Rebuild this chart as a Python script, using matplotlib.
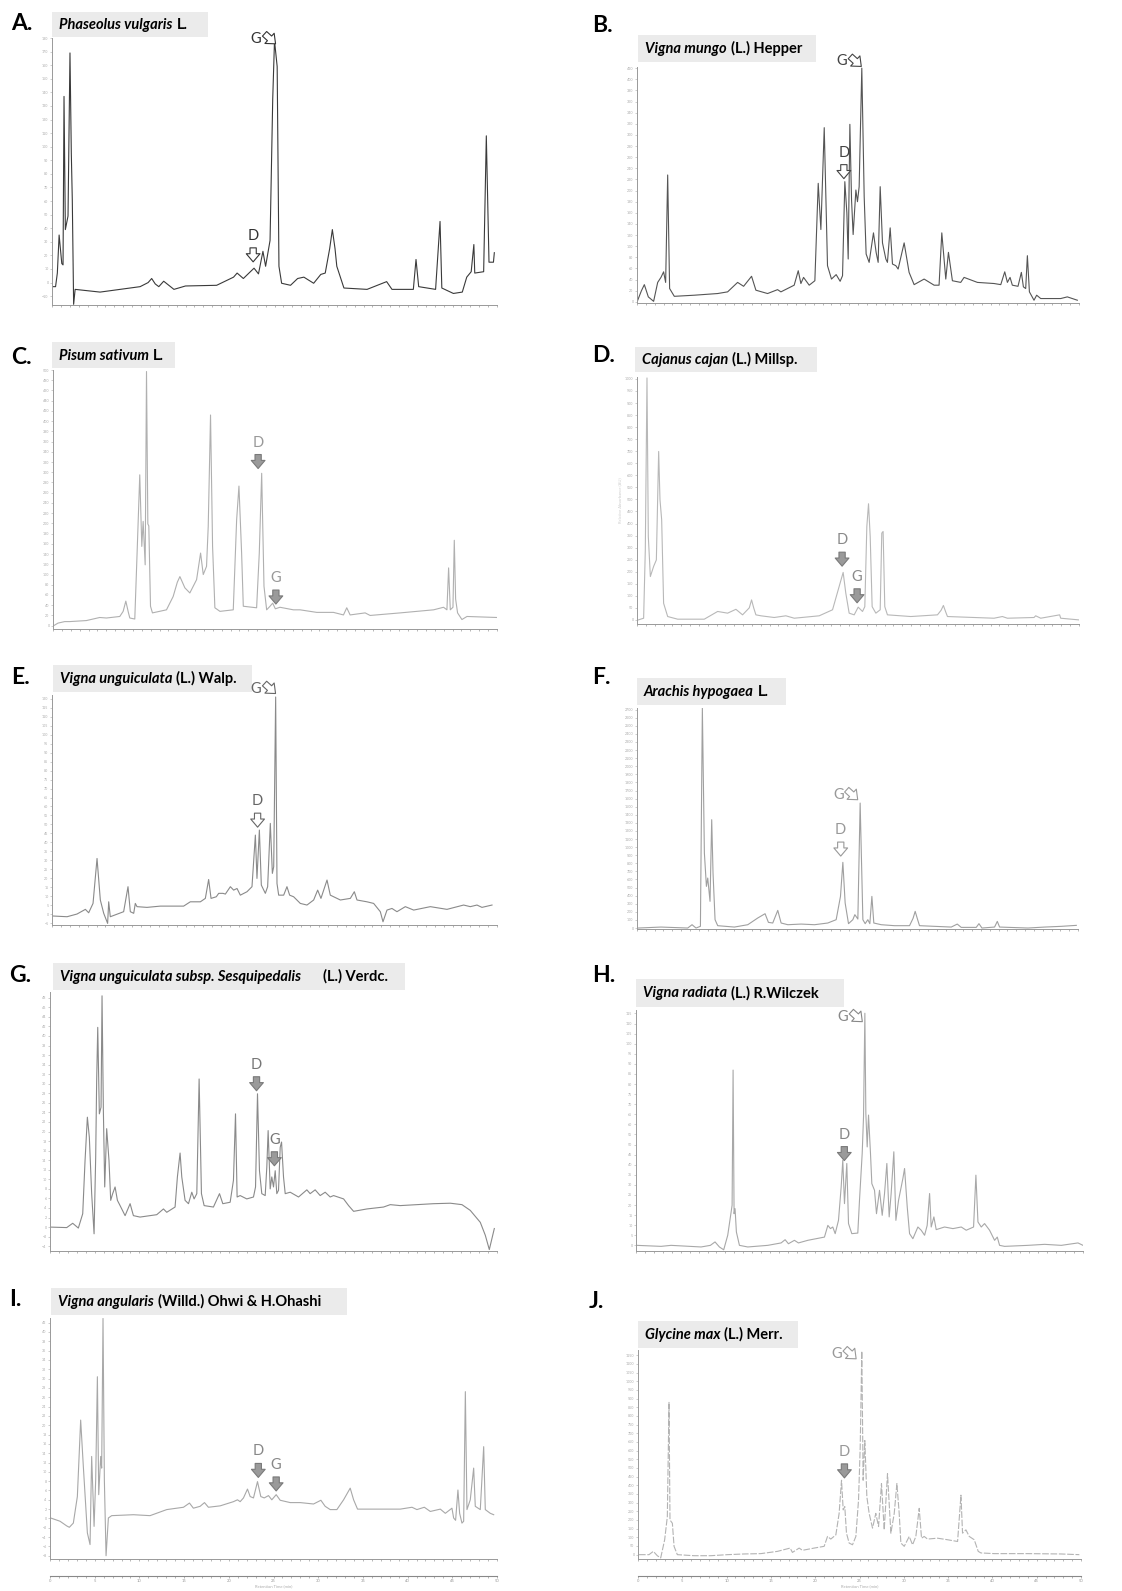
import numpy as np
import matplotlib
matplotlib.use('Agg')
import matplotlib.pyplot as plt
from matplotlib.patches import FancyArrowPatch, Rectangle
from matplotlib.transforms import IdentityTransform
from matplotlib.ticker import MultipleLocator

plt.rcParams['font.family'] = ['Lato', 'DejaVu Sans']

# ---- chromatograms: (retention time min, signal) ----
trazo_A = [(0.1,-3),(0.4,-3),(0.6,7),(0.8,35),(1.1,14),(1.24,13),(1.35,137),(1.5,39),(1.8,49),(2.02,169),
           (2.17,95),(2.28,61),(2.43,-16),(2.6,-5),(5.4,-7),(9.9,-3),(10.8,0),(11.2,3),(11.6,-1),(12.0,-3),(12.55,1),
           (13.7,-5),(15.0,-2.5),(18.5,-2),(20.4,4),(20.8,7),(21.5,3),(22.7,10.6),(23.2,6.4),(23.7,23),(24.0,12),
           (24.5,31),(24.8,135),(25.0,178),(25.3,159),(25.5,12),(25.8,-0.5),(26.8,-2),(27.6,3),(28.3,4),(29.4,-0.5),
           (30.2,6),(30.7,7),(31.2,25),(31.5,39),(31.8,25),(32.0,12),(32.8,-4),(35.4,-5),(37.6,0.7),(38.2,-5),
           (40.6,-5),(40.9,17),(41.2,-3),(43.1,-5),(43.6,45),(43.8,-4),(45.1,-8),(46.1,-7),(46.6,4),(47.1,8),
           (47.4,28),(47.5,7),(48.5,8),(48.8,108),(49.1,15),(49.6,15),(49.7,22)]

trazo_B = [(0.08,3),(0.5,20),(0.83,31),(1.28,9),(1.88,1),(2.34,35),(2.71,44),(3.01,54),(3.24,35),(3.47,228),
           (3.69,24),(4.22,10),(6.48,12),(9.12,15),(10.25,18),(11.38,35),(12.06,28),(12.96,46),(13.45,21),
           (14.77,15),(15.9,22),(16.28,18),(17.78,30),(18.24,56),(18.54,33),(18.84,44),(19.48,30),(20.12,38),
           (20.5,213),(20.8,130),(21.18,313),(21.55,65),(22.0,41),(22.53,49),(22.98,37),(23.25,47),(23.51,216),
           (23.74,160),(23.89,77),(24.08,319),(24.27,183),(24.45,121),(24.76,201),(24.94,180),(25.13,207),
           (25.43,420),(25.7,189),(25.92,86),(26.26,71),(26.75,124),(27.05,89),(27.28,71),(27.51,207),(27.77,106),
           (28.15,77),(28.33,71),(28.64,133),(28.9,68),(29.28,65),(29.54,59),(30.22,106),(30.78,53),(31.35,31),
           (32.48,41),(33.61,30),(34.17,30),(34.48,124),(34.93,41),(35.23,89),(35.68,38),(36.62,35),(37.0,44),
           (38.51,35),(40.39,33),(41.15,31),(41.6,54),(41.9,35),(42.2,44),(42.46,30),(43.1,28),(43.48,53),
           (43.71,27),(43.97,24),(44.16,83),(44.39,18),(44.91,3),(45.21,12),(45.67,6),(47.93,6),(48.68,9),(49.81,3)]

trazo_C = [(0.08,0),(0.56,5),(1.32,8),(1.88,8),(3.76,10),(5.26,16),(6.02,15),(7.52,18),(7.9,28),(8.2,48),(8.5,25),
           (8.65,15),(9.21,13),(9.47,142),(9.77,295),(10.0,155),(10.15,204),(10.38,119),(10.53,497),(10.68,199),
           (10.79,195),(10.98,38),(11.2,25),(12.78,31),(13.53,57),(14.0,85),(14.29,96),(14.85,74),(15.41,64),
           (16.17,90),(16.62,142),(16.92,100),(17.29,116),(17.48,194),(17.74,412),(17.97,155),(18.23,35),
           (18.8,28),(20.3,31),(20.68,207),(20.94,273),(21.24,142),(21.43,38),(22.93,35),(23.23,142),(23.5,298),
           (23.76,77),(24.06,31),(24.44,38),(24.74,44),(25.04,33),(25.56,36),(27.07,31),(27.82,31),(29.7,26),
           (31.58,26),(32.71,21),(33.08,35),(33.46,21),(35.15,25),(35.71,20),(39.1,25),(42.86,31),(43.98,36),
           (44.36,31),(44.55,113),(44.74,31),(45.04,36),(45.19,167),(45.34,52),(45.56,25),(46.05,12),(46.62,18),
           (50.0,16)]

trazo_D = [(0.15,0),(0.75,7),(0.94,291),(1.13,1004),(1.28,346),(1.51,180),(1.88,222),(2.19,249),(2.45,699),
           (2.6,499),(2.79,416),(3.01,69),(3.47,14),(4.6,3),(7.61,3),(9.12,35),(10.25,28),(11.19,44),(11.94,21),
           (12.7,50),(12.96,83),(13.2,50),(13.45,21),(14.02,17),(15.52,10),(16.84,17),(17.79,7),(20.61,17),
           (22.12,42),(22.87,139),(23.32,197),(23.62,111),(24.0,28),(24.57,21),(25.02,53),(25.51,35),(25.77,55),
           (26.0,388),(26.19,482),(26.38,346),(26.6,55),(27.02,28),(27.51,42),(27.69,360),(27.84,367),(28.03,55),
           (28.33,21),(30.97,14),(33.99,21),(34.4,40),(34.66,60),(34.9,35),(35.12,14),(40.39,7),(41.33,14),
           (41.9,7),(44.91,10),(45.1,17),(45.67,7),(47.81,21),(47.93,7),(50.0,0)]

trazo_E = [(0.11,-0.9),(1.69,-1.3),(2.81,0.2),(3.75,2.8),(4.12,0.9),(4.61,6.1),(5.06,31.1),(5.43,8.0),(5.81,0.6),
           (6.25,-5.0),(6.37,7.0),(6.55,-1.3),(8.05,1.5),(8.54,15.4),(8.8,1.5),(9.18,0.6),(9.36,6.1),(9.55,4.3),
           (10.67,3.9),(12.17,4.6),(14.79,4.6),(15.54,7.0),(16.67,7.0),(17.23,8.9),(17.6,19.4),(17.87,8.9),
           (18.46,9.8),(18.73,11.7),(19.21,11.7),(19.48,11.3),(20.04,15.4),(20.41,13.5),(20.79,14.4),(21.16,10.7),
           (21.91,12.6),(22.47,15.4),(22.85,44.1),(23.03,20.0),(23.3,46.9),(23.52,16.3),(23.97,11.7),(24.23,15.4),
           (24.53,50.6),(24.76,22.8),(24.91,26.5),(25.13,120.9),(25.28,17.2),(25.47,10.7),(26.03,10.7),
           (26.4,15.4),(26.7,10.7),(27.15,9.8),(27.9,6.1),(28.65,5.2),(29.4,8.0),(29.85,13.5),(30.22,8.9),
           (30.9,19.1),(31.27,10.7),(32.4,8.0),(33.52,8.9),(33.97,12.6),(34.27,8.0),(35.39,7.0),(36.14,6.1),
           (36.89,1.5),(37.19,-4.1),(37.64,2.4),(38.2,3.3),(38.76,1.5),(39.7,4.3),(40.64,2.4),(42.51,4.3),
           (44.38,2.8),(46.25,5.2),(47.0,4.3),(47.75,5.2),(48.31,3.9),(49.44,5.2)]

trazo_F = [(0.15,0),(2.72,12),(5.75,0),(6.24,41),(6.69,0),(7.19,21),(7.41,2719),(7.64,927),(7.87,515),(8.02,618),
           (8.28,330),(8.47,1339),(8.62,680),(8.85,103),(9.15,29),(11.04,12),(12.56,41),(13.12,82),(13.69,124),
           (14.52,177),(14.9,70),(15.39,62),(15.96,218),(16.34,62),(17.1,41),(18.61,49),(20.12,41),(21.63,62),
           (22.58,103),(23.07,391),(23.34,812),(23.6,309),(23.98,54),(24.47,103),(24.7,165),(25.04,111),
           (25.3,1545),(25.61,103),(25.87,54),(26.17,103),(26.4,54),(26.63,391),(26.85,62),(27.69,41),(29.2,29),
           (30.9,29),(31.3,120),(31.54,206),(31.8,110),(32.03,29),(35.63,12),(36.31,49),(36.76,8),(38.46,8),
           (38.77,54),(39.11,0),(40.54,12),(40.85,82),(41.11,12),(44.33,0),(46.22,12),(48.11,21),(49.81,33)]

trazo_G = [(0.07,0),(1.87,-0.1),(2.54,0.8),(3.17,-0.2),(3.66,2.8),(3.92,13.9),(4.18,23.0),(4.4,18.8),(4.66,7.0),
           (4.93,-1.4),(5.11,14.6),(5.22,30.7),(5.34,41.8),(5.52,23.7),(5.71,25.1),(5.82,48.4),(5.97,24.4),
           (6.12,8.4),(6.34,20.6),(6.6,13.9),(6.79,5.6),(7.01,7.0),(7.28,8.4),(7.54,5.6),(7.84,4.5),(8.4,2.4),
           (8.96,4.9),(9.33,2.4),(10.07,2.1),(11.94,2.6),(12.69,3.8),(13.06,3.1),(13.99,4.2),(14.25,10.5),
           (14.55,15.5),(14.74,10.5),(15.11,5.6),(15.49,4.9),(15.86,7.3),(16.12,5.9),(16.42,7.0),(16.68,31.0),
           (16.94,7.0),(17.24,4.5),(18.28,4.2),(18.96,7.0),(19.33,4.9),(20.15,5.2),(20.52,9.8),(20.75,23.7),
           (20.93,6.3),(21.27,6.6),(22.01,5.9),(22.76,6.3),(22.99,8.4),(23.21,27.9),(23.43,11.8),(23.69,7.0),
           (24.07,6.6),(24.25,12.5),(24.4,20.2),(24.63,8.0),(24.81,10.5),(25.0,8.4),(25.19,11.8),(25.37,7.0),
           (25.56,7.7),(25.75,16.7),(25.9,17.8),(26.12,10.5),(26.31,7.0),(26.87,7.3),(27.8,6.3),(28.73,7.8),
           (29.1,7.0),(29.66,7.8),(30.22,6.6),(30.78,7.3),(31.34,6.3),(31.72,6.6),(32.84,5.9),(33.4,4.5),
           (33.96,3.3),(35.45,3.8),(37.31,4.2),(38.06,4.7),(39.18,4.5),(41.04,4.7),(42.91,4.9),(44.78,5.0),
           (46.08,4.7),(47.01,3.5),(48.13,1.0),(48.69,-1.7),(49.14,-4.7),(49.7,-0.3)]

trazo_H = [(0.11,0),(2.8,-0.5),(3.92,0),(7.28,-0.8),(8.32,0),(8.84,1.7),(9.33,-0.8),(9.81,-2.2),(10.26,5.0),
           (10.56,14.1),(10.75,19.9),(10.86,86.9),(10.97,15.7),(11.08,18.2),(11.23,6.6),(11.57,0),(12.5,-0.8),
           (14.74,0),(16.23,1.2),(16.68,2.8),(17.05,0.8),(17.72,2.5),(18.17,1.2),(19.22,2.5),(20.15,3.3),
           (21.08,4.1),(21.46,9.9),(21.75,8.3),(22.01,9.1),(22.28,5.8),(22.65,12.4),(22.95,29.0),(23.13,42.2),
           (23.32,20.7),(23.58,40.6),(23.77,10.8),(24.14,5.8),(24.81,6.1),(25.0,22.4),(25.3,45.5),(25.45,63.7),
           (25.6,115.1),(25.71,65.4),(25.86,48.8),(26.01,64.6),(26.23,45.5),(26.38,30.6),(26.68,27.3),
           (26.9,15.7),(27.24,27.3),(27.54,14.9),(27.8,25.7),(28.06,40.6),(28.32,14.1),(28.54,25.7),(28.84,46.4),
           (29.07,12.4),(29.37,22.4),(29.85,33.1),(30.04,38.1),(30.34,19.0),(30.6,5.8),(30.97,3.3),(31.53,9.1),
           (31.9,7.5),(32.28,5.0),(32.57,9.9),(32.84,25.7),(33.02,9.1),(33.32,14.1),(33.58,7.8),(34.51,9.1),
           (35.45,8.3),(36.38,9.1),(36.94,7.5),(37.76,9.1),(38.02,34.8),(38.25,11.6),(38.62,9.1),(38.99,10.8),
           (39.55,7.5),(40.11,2.5),(40.41,4.1),(40.67,0),(41.23,-0.5),(43.84,0),(45.71,0.5),(47.57,0),(49.44,1.2),
           (50.0,0)]

trazo_I = [(0.07,0.1),(1.12,-0.6),(1.87,-1.6),(2.16,-1.9),(2.61,-1.0),(3.06,4.7),(3.43,21.1),(3.73,11.1),
           (4.18,-3.1),(4.48,-5.6),(4.66,13.3),(4.93,-1.7),(5.11,8.3),(5.3,30.4),(5.45,5.1),(5.67,13.3),
           (5.78,10.8),(5.93,42.9),(6.08,8.3),(6.27,-8.0),(6.53,0.1),(6.9,0.6),(9.33,0.8),(11.19,0.6),(13.06,1.9),
           (14.18,2.2),(14.93,2.4),(15.6,3.3),(16.04,2.2),(16.79,2.6),(17.28,3.4),(17.72,2.4),(19.03,2.7),
           (20.52,3.6),(20.97,4.0),(21.27,3.6),(21.64,4.4),(22.09,6.3),(22.39,4.7),(22.76,4.4),(23.21,7.9),
           (23.58,4.7),(23.96,4.4),(24.44,4.9),(24.81,4.0),(25.3,5.1),(25.75,3.9),(26.87,3.4),(27.99,3.4),
           (29.48,3.1),(30.3,3.9),(30.78,2.6),(31.34,1.9),(32.09,1.9),(32.84,4.0),(33.58,6.5),(33.96,4.0),
           (34.4,2.0),(35.45,2.0),(39.18,2.0),(40.49,2.4),(41.04,1.9),(41.87,2.4),(42.54,1.5),(43.66,2.0),
           (44.22,1.1),(44.96,2.2),(45.15,0.1),(45.37,-0.4),(45.63,6.1),(45.82,1.1),(46.08,-1.0),(46.27,-0.6),
           (46.46,27.2),(46.64,1.9),(47.01,4.0),(47.39,10.8),(47.57,2.6),(48.13,1.9),(48.51,15.4),(48.69,1.9),
           (49.25,1.1),(49.63,0.8)]

trazo_J = [(0.11,0),(1.24,0),(1.73,19),(2.18,-6),(2.56,-19),(3.01,86),(3.31,219),(3.5,878),(3.61,200),(3.88,181),
           (4.07,48),(4.44,0),(6.33,-6),(8.21,-6),(10.09,0),(11.97,4),(13.86,6),(15.74,19),(17.17,38),(17.43,13),
           (18.19,38),(18.56,25),(19.88,38),(21.01,48),(21.39,105),(21.76,90),(22.33,114),(22.7,238),(22.97,429),
           (23.16,258),(23.34,277),(23.53,124),(23.83,67),(24.21,57),(24.59,105),(24.89,315),(25.08,620),
           (25.26,1173),(25.41,429),(25.6,658),(25.83,334),(26.09,238),(26.47,153),(26.84,238),(27.15,162),
           (27.48,410),(27.79,143),(28.16,467),(28.54,124),(28.92,238),(29.22,410),(29.48,238),(29.67,67),
           (30.05,48),(30.61,105),(30.99,57),(31.36,105),(31.74,267),(32.0,95),(32.3,105),(32.68,90),(33.81,95),
           (34.94,86),(36.07,76),(36.45,343),(36.63,124),(37.01,143),(37.39,105),(37.95,86),(38.4,19),(38.7,10),
           (40.21,6),(43.98,6),(47.74,4),(49.81,0)]

letras = ['A', 'B', 'C', 'D', 'E', 'F', 'G', 'H', 'I', 'J']
especies = ['Phaseolus vulgaris', 'Vigna mungo', 'Pisum sativum', 'Cajanus cajan', 'Vigna unguiculata',
            'Arachis hypogaea', 'Vigna unguiculata subsp. Sesquipedalis', 'Vigna radiata', 'Vigna angularis',
            'Glycine max']
autores = ['L.', '(L.) Hepper', 'L.', '(L.) Millsp.', '(L.) Walp.', 'L.', '(L.) Verdc.', '(L.) R.Wilczek',
           '(Willd.) Ohwi & H.Ohashi', '(L.) Merr.']
trazos = [trazo_A, trazo_B, trazo_C, trazo_D, trazo_E, trazo_F, trazo_G, trazo_H, trazo_I, trazo_J]
# D and G marker positions (time, signal) and arrow kind
marca_D = [(22.6, 20.4), (23.4, 234), (23.1, 321), (23.2, 252), (23.1, 52.4),
           (23.1, 976), (23.1, 30.0), (23.3, 45.5), (23.3, 10.3), (23.3, 483)]
marca_G = [(24.5, 179.4), (24.75, 432), (25.1, 56), (24.9, 100), (24.5, 125.6),
           (24.4, 1648), (25.1, 14.3), (24.7, 113.4), (25.3, 7.4), (24.0, 1158)]
tipo_G = ['diag', 'diag', 'down', 'down', 'diag', 'diag', 'down', 'diag', 'down', 'diag']
yticks = [(-10, 180, 10), (0, 420, 20), (0, 500, 20), (0, 1000, 50), (-5, 120, 5),
          (0, 2700, 100), (-4, 48, 2), (0, 115, 5), (-8, 42, 2), (0, 1150, 50)]

# ---- layout (pixels in a 1122 x 1591 canvas) ----
W, H = 1122, 1591
ejes = [(52, 38, 497, 305), (637, 67, 1079, 303), (53, 370, 497, 629), (637, 377, 1079, 624),
        (52, 695, 497, 925), (637, 708, 1078, 929), (50, 992, 497, 1251), (636, 1010, 1083, 1251),
        (50, 1318, 497, 1559), (638, 1350, 1081, 1559)]
ylims = [(-16.5, 180), (-2, 422), (-6.5, 500), (-17, 1008), (-5.9, 122),
         (-12, 2720), (-5, 49.2), (-2.8, 116.7), (-8.7, 43), (-25, 1180)]
cajas = [(52, 12, 208, 37), (638, 35, 816, 62), (52, 342, 175, 368), (635, 347, 817, 372),
         (53, 665, 252, 692), (637, 678, 786, 705), (53, 963, 405, 990), (636, 979, 844, 1007),
         (51, 1288, 347, 1315), (638, 1321, 798, 1348)]
pos_letra = [(11, 24), (592, 25), (11, 357), (592, 356), (11, 678), (592, 678),
             (9, 975), (592, 976), (9, 1299), (589, 1301)]
col_linea = ['#3a3a3a', '#555555', '#b0b0b0', '#b8b8b8', '#8a8a8a', '#a0a0a0', '#8a8a8a', '#a8a8a8', '#a8a8a8', '#b3b3b3']
col_texto = ['#333333', '#444444', '#999999', '#8a8a8a', '#666666', '#999999', '#777777', '#888888', '#888888', '#999999']
hueca = [True, True, False, False, True, True, False, False, False, False]

fig = plt.figure(figsize=(W / 100, H / 100), dpi=100)
fig.patch.set_facecolor('white')
renderer = fig.canvas.get_renderer()


def px_axes(x0, y0, x1, y1):
    return fig.add_axes([x0 / W, 1 - y1 / H, (x1 - x0) / W, (y1 - y0) / H])


def flecha(ax, x, y, kind, fc, ec):
    px, py = ax.transData.transform((x, y))
    if kind == 'down':
        a, b = (px, py + 7), (px, py - 7)
    else:
        a, b = (px - 5.5, py + 5), (px + 5.5, py - 5)
    arr = FancyArrowPatch(a, b, transform=IdentityTransform(),
                          arrowstyle='simple,head_length=0.65,head_width=1.1,tail_width=0.5',
                          mutation_scale=9, shrinkA=0, shrinkB=0, fc=fc, ec=ec, lw=0.8)
    fig.add_artist(arr)
    return px, py


for i in range(10):
    x0, y0, x1, y1 = ejes[i]
    ax = px_axes(x0, y0, x1, y1)
    datos = np.array(trazos[i])
    ls = (0, (6, 1.5)) if letras[i] == 'J' else '-'
    ax.plot(datos[:, 0], datos[:, 1], color=col_linea[i], lw=0.8, ls=ls)
    ax.set_xlim(0, 50)
    ax.set_ylim(*ylims[i])
    a, b, s = yticks[i]
    ax.set_yticks(np.arange(a, b + s / 2, s))
    ax.tick_params(axis='y', labelsize=2.6, length=1.5, width=0.4, colors='#aaaaaa', pad=1)
    ax.xaxis.set_major_locator(MultipleLocator(5))
    ax.xaxis.set_minor_locator(MultipleLocator(1))
    ax.tick_params(axis='x', which='both', labelbottom=False, length=1.5, width=0.5, colors='#999999')
    for sp in ['top', 'right']:
        ax.spines[sp].set_visible(False)
    for sp in ['left', 'bottom']:
        ax.spines[sp].set_color('#999999')
        ax.spines[sp].set_linewidth(0.7)
    ax.patch.set_alpha(0)
    if letras[i] == 'D':
        ax.set_ylabel('Relative Absorbance (AU)', fontsize=3, color='#cccccc', labelpad=2)

    # panel letter
    lx, ly = pos_letra[i]
    fig.text(lx / W, 1 - ly / H, letras[i] + '.', fontsize=16.5, weight='bold', va='center', ha='left')

    # title box
    bx0, by0, bx1, by1 = cajas[i]
    fig.patches.append(Rectangle((bx0 / W, 1 - by1 / H), (bx1 - bx0) / W, (by1 - by0) / H,
                                 transform=fig.transFigure, fc='#ebebeb', ec='none', zorder=0))
    base = 1 - ((by0 + by1) / 2 + 4.5) / H
    t1 = fig.text((bx0 + 7) / W, base, especies[i], fontsize=10.5, weight='bold', style='italic', va='baseline')
    bb = t1.get_window_extent(renderer)
    hueco = 22 if letras[i] == 'G' else 4
    fig.text((bb.x1 + hueco) / W, base, autores[i], fontsize=10.5, weight='bold', va='baseline')

    # D and G markers
    if hueca[i]:
        fc, ec = 'white', col_texto[i]
    else:
        fc, ec = '#9a9a9a', '#7a7a7a'
    px, py = flecha(ax, marca_D[i][0], marca_D[i][1], 'down', fc, ec)
    fig.text(px / W, (py + 19) / H, 'D', fontsize=10.5, color=col_texto[i], ha='center', va='center')
    if tipo_G[i] == 'down':
        px, py = flecha(ax, marca_G[i][0], marca_G[i][1], 'down', fc, ec)
        fig.text(px / W, (py + 19) / H, 'G', fontsize=10.5, color=col_texto[i], ha='center', va='center')
    else:
        px, py = flecha(ax, marca_G[i][0], marca_G[i][1], 'diag', 'white', col_texto[i])
        fig.text((px - 14) / W, py / H, 'G', fontsize=10.5, color=col_texto[i], ha='center', va='center')

    # time axis under the bottom row
    if letras[i] in ('I', 'J'):
        ax2 = px_axes(x0, 1570, x1, 1576)
        ax2.set_xlim(0, 50)
        ax2.set_yticks([])
        ax2.set_xticks(np.arange(0, 51, 5))
        ax2.xaxis.set_minor_locator(MultipleLocator(1))
        ax2.tick_params(axis='x', which='both', labelsize=3, length=1.5, width=0.5, colors='#999999', pad=1)
        for sp in ['top', 'right', 'left']:
            ax2.spines[sp].set_visible(False)
        ax2.spines['bottom'].set_color('#888888')
        ax2.patch.set_alpha(0)
        ax2.set_xlabel('Retention Time (min)', fontsize=3, color='#aaaaaa', labelpad=1)

fig.savefig('out.png', dpi=100)
